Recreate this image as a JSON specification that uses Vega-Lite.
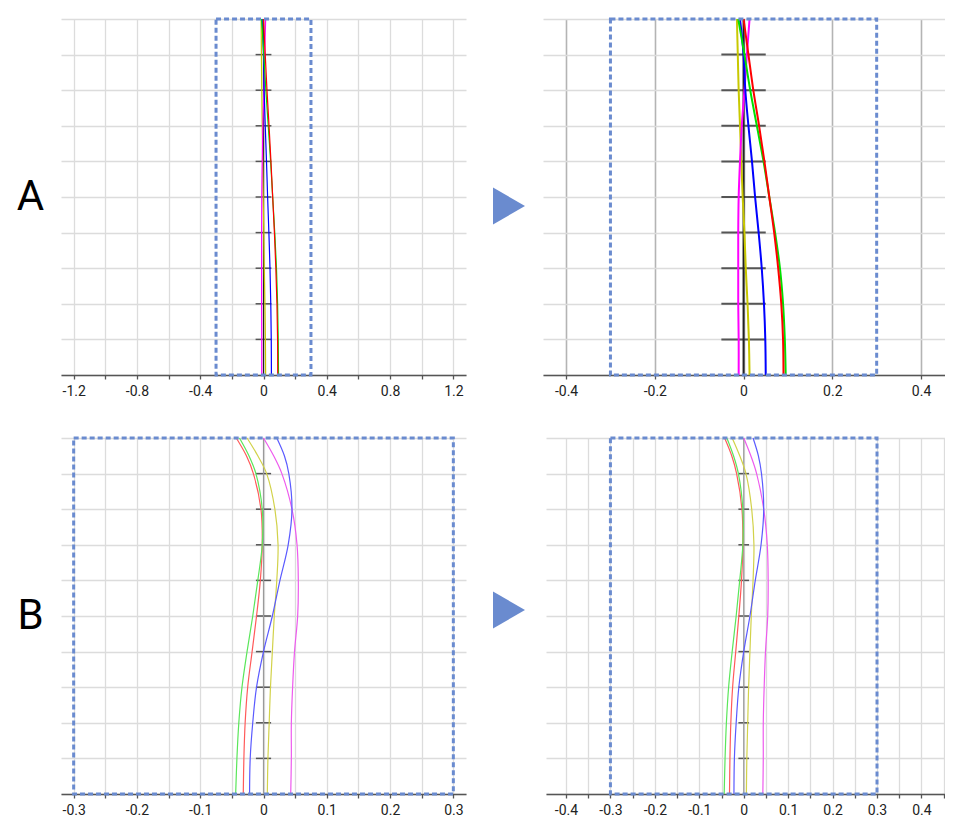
{
  "$schema": "https://vega.github.io/schema/vega-lite/v6.json",
  "background": "white",
  "padding": {"left": 0, "top": 15, "right": 0, "bottom": 0},
  "config": {
    "view": {"stroke": null},
    "axis": {
      "labelFont": "Roboto",
      "labelFontSize": 14,
      "labelColor": "#222222",
      "labelPadding": 5,
      "labelOverlap": false,
      "labelFlush": false,
      "domainColor": "#555555",
      "domainWidth": 1.5,
      "tickColor": "#555555",
      "tickSize": 4,
      "tickWidth": 1.3,
      "gridColor": "#dcdcdc",
      "gridWidth": 1.3
    }
  },
  "datasets": {
    "box": [{"x": -0.3, "x2": 0.3, "s": 0, "s2": 10}],
    "nodesA": [
      {"s": 1, "x": -0.05, "x2": 0.05}, {"s": 2, "x": -0.05, "x2": 0.05}, {"s": 3, "x": -0.05, "x2": 0.05},
      {"s": 4, "x": -0.05, "x2": 0.05}, {"s": 5, "x": -0.05, "x2": 0.05}, {"s": 6, "x": -0.05, "x2": 0.05},
      {"s": 7, "x": -0.05, "x2": 0.05}, {"s": 8, "x": -0.05, "x2": 0.05}, {"s": 9, "x": -0.05, "x2": 0.05}
    ],
    "nodesB": [
      {"s": 1, "x": -0.012, "x2": 0.012}, {"s": 2, "x": -0.012, "x2": 0.012}, {"s": 3, "x": -0.012, "x2": 0.012},
      {"s": 4, "x": -0.012, "x2": 0.012}, {"s": 5, "x": -0.012, "x2": 0.012}, {"s": 6, "x": -0.012, "x2": 0.012},
      {"s": 7, "x": -0.012, "x2": 0.012}, {"s": 8, "x": -0.012, "x2": 0.012}, {"s": 9, "x": -0.012, "x2": 0.012}
    ],
    "curvesA": [
      {"curve": "black", "s": 0, "x": 0}, {"curve": "black", "s": 10, "x": 0},
      {"curve": "yellow", "s": 0, "x": -0.015}, {"curve": "yellow", "s": 1, "x": -0.013}, {"curve": "yellow", "s": 2, "x": -0.011},
      {"curve": "yellow", "s": 3, "x": -0.008}, {"curve": "yellow", "s": 4, "x": -0.005}, {"curve": "yellow", "s": 5, "x": -0.002},
      {"curve": "yellow", "s": 6, "x": 0.002}, {"curve": "yellow", "s": 7, "x": 0.005}, {"curve": "yellow", "s": 8, "x": 0.009},
      {"curve": "yellow", "s": 9, "x": 0.012}, {"curve": "yellow", "s": 10, "x": 0.0135},
      {"curve": "magenta", "s": 0, "x": 0.0135}, {"curve": "magenta", "s": 1, "x": 0.0075}, {"curve": "magenta", "s": 2, "x": 0.002},
      {"curve": "magenta", "s": 3, "x": -0.004}, {"curve": "magenta", "s": 4, "x": -0.008}, {"curve": "magenta", "s": 5, "x": -0.011},
      {"curve": "magenta", "s": 6, "x": -0.012}, {"curve": "magenta", "s": 7, "x": -0.012}, {"curve": "magenta", "s": 8, "x": -0.012},
      {"curve": "magenta", "s": 9, "x": -0.011}, {"curve": "magenta", "s": 10, "x": -0.011},
      {"curve": "blue", "s": 0, "x": -0.008}, {"curve": "blue", "s": 1, "x": 0.0}, {"curve": "blue", "s": 2, "x": 0.004},
      {"curve": "blue", "s": 3, "x": 0.011}, {"curve": "blue", "s": 4, "x": 0.019}, {"curve": "blue", "s": 5, "x": 0.026},
      {"curve": "blue", "s": 6, "x": 0.034}, {"curve": "blue", "s": 7, "x": 0.041}, {"curve": "blue", "s": 8, "x": 0.046},
      {"curve": "blue", "s": 9, "x": 0.049}, {"curve": "blue", "s": 10, "x": 0.05},
      {"curve": "green", "s": 0, "x": -0.012}, {"curve": "green", "s": 1, "x": 0.002}, {"curve": "green", "s": 2, "x": 0.015},
      {"curve": "green", "s": 3, "x": 0.03}, {"curve": "green", "s": 4, "x": 0.045}, {"curve": "green", "s": 5, "x": 0.058},
      {"curve": "green", "s": 6, "x": 0.071}, {"curve": "green", "s": 7, "x": 0.082}, {"curve": "green", "s": 8, "x": 0.089},
      {"curve": "green", "s": 9, "x": 0.093}, {"curve": "green", "s": 10, "x": 0.095},
      {"curve": "red", "s": 0, "x": 0}, {"curve": "red", "s": 1, "x": 0.011}, {"curve": "red", "s": 2, "x": 0.022},
      {"curve": "red", "s": 3, "x": 0.035}, {"curve": "red", "s": 4, "x": 0.047}, {"curve": "red", "s": 5, "x": 0.058},
      {"curve": "red", "s": 6, "x": 0.069}, {"curve": "red", "s": 7, "x": 0.078}, {"curve": "red", "s": 8, "x": 0.085},
      {"curve": "red", "s": 9, "x": 0.089}, {"curve": "red", "s": 10, "x": 0.09}
    ],
    "curvesB": [
      {"curve": "gray", "s": 0, "x": 0}, {"curve": "gray", "s": 10, "x": 0},
      {"curve": "red", "s": 0, "x": -0.043}, {"curve": "red", "s": 0.5, "x": -0.027}, {"curve": "red", "s": 1, "x": -0.016},
      {"curve": "red", "s": 2, "x": -0.004}, {"curve": "red", "s": 3, "x": -0.002}, {"curve": "red", "s": 4, "x": -0.005},
      {"curve": "red", "s": 5, "x": -0.011}, {"curve": "red", "s": 6, "x": -0.018}, {"curve": "red", "s": 7, "x": -0.025},
      {"curve": "red", "s": 8, "x": -0.029}, {"curve": "red", "s": 9, "x": -0.031}, {"curve": "red", "s": 10, "x": -0.032},
      {"curve": "green", "s": 0, "x": -0.038}, {"curve": "green", "s": 0.5, "x": -0.023}, {"curve": "green", "s": 1, "x": -0.012},
      {"curve": "green", "s": 2, "x": -0.002}, {"curve": "green", "s": 3, "x": -0.002}, {"curve": "green", "s": 4, "x": -0.009},
      {"curve": "green", "s": 5, "x": -0.017}, {"curve": "green", "s": 6, "x": -0.026}, {"curve": "green", "s": 7, "x": -0.034},
      {"curve": "green", "s": 8, "x": -0.039}, {"curve": "green", "s": 9, "x": -0.042}, {"curve": "green", "s": 10, "x": -0.044},
      {"curve": "yellow", "s": 0, "x": -0.026}, {"curve": "yellow", "s": 0.5, "x": -0.009}, {"curve": "yellow", "s": 1, "x": 0.005},
      {"curve": "yellow", "s": 2, "x": 0.018}, {"curve": "yellow", "s": 3, "x": 0.023}, {"curve": "yellow", "s": 4, "x": 0.021},
      {"curve": "yellow", "s": 5, "x": 0.017}, {"curve": "yellow", "s": 6, "x": 0.014}, {"curve": "yellow", "s": 7, "x": 0.011},
      {"curve": "yellow", "s": 8, "x": 0.009}, {"curve": "yellow", "s": 9, "x": 0.007}, {"curve": "yellow", "s": 10, "x": 0.006},
      {"curve": "magenta", "s": 0, "x": 0}, {"curve": "magenta", "s": 0.5, "x": 0.016}, {"curve": "magenta", "s": 1, "x": 0.029},
      {"curve": "magenta", "s": 2, "x": 0.045}, {"curve": "magenta", "s": 3, "x": 0.053}, {"curve": "magenta", "s": 4, "x": 0.055},
      {"curve": "magenta", "s": 5, "x": 0.054}, {"curve": "magenta", "s": 6, "x": 0.049}, {"curve": "magenta", "s": 7, "x": 0.046},
      {"curve": "magenta", "s": 8, "x": 0.044}, {"curve": "magenta", "s": 9, "x": 0.044}, {"curve": "magenta", "s": 10, "x": 0.043},
      {"curve": "blue", "s": 0, "x": 0.021}, {"curve": "blue", "s": 0.5, "x": 0.033}, {"curve": "blue", "s": 1, "x": 0.04},
      {"curve": "blue", "s": 2, "x": 0.045}, {"curve": "blue", "s": 3, "x": 0.039}, {"curve": "blue", "s": 4, "x": 0.026},
      {"curve": "blue", "s": 5, "x": 0.014}, {"curve": "blue", "s": 6, "x": 0.0}, {"curve": "blue", "s": 7, "x": -0.011},
      {"curve": "blue", "s": 8, "x": -0.017}, {"curve": "blue", "s": 9, "x": -0.021}, {"curve": "blue", "s": 10, "x": -0.022}
    ]
  },
  "resolve": {"scale": {"color": "independent"}},
  "spacing": 37,
  "vconcat": [
    {
      "spacing": 0,
      "resolve": {"scale": {"color": "independent"}},
      "hconcat": [
        {
          "width": 61, "height": 356,
          "data": {"values": [{"panel": "A"}]},
          "mark": {"type": "text", "font": "Roboto", "fontSize": 42, "color": "black", "align": "center", "baseline": "middle"},
          "encoding": {"text": {"field": "panel"}}
        },
        {
          "width": 405, "height": 356,
          "encoding": {
            "x": {"field": "x", "type": "quantitative", "scale": {"domain": [-1.28, 1.28], "nice": false, "zero": false},
              "axis": {"title": null, "grid": true, "values": [-1.2, -1, -0.8, -0.6, -0.4, -0.2, 0, 0.2, 0.4, 0.6, 0.8, 1, 1.2],
                "labelExpr": "abs(datum.value / 0.4 - round(datum.value / 0.4)) < 0.01 ? (datum.value < 0 ? '-' + format(-datum.value, '.1~f') : format(datum.value, '.1~f')) : ''"}},
            "y": {"field": "s", "type": "quantitative", "scale": {"domain": [0, 10], "reverse": true, "nice": false, "zero": false},
              "axis": {"title": null, "grid": true, "values": [0, 1, 2, 3, 4, 5, 6, 7, 8, 9, 10], "labels": false, "ticks": false, "domain": false}}
          },
          "layer": [
            {
              "data": {"name": "nodesA"},
              "mark": {"type": "rule", "color": "#555555", "strokeWidth": 1.5},
              "encoding": {"x2": {"field": "x2"}}
            },
            {
              "data": {"name": "curvesA"},
              "mark": {"type": "line", "strokeWidth": 1.2, "interpolate": "catmull-rom"},
              "encoding": {
                "order": {"field": "s", "type": "quantitative"},
                "color": {"field": "curve", "type": "nominal", "legend": null,
                  "scale": {"domain": ["black", "yellow", "magenta", "blue", "green", "red"], "range": ["#222222", "#c8c800", "#ff00ff", "#0000ff", "#00e000", "#ff0000"]}}
              }
            },
            {
              "data": {"name": "box"},
              "mark": {"type": "rect", "filled": false, "stroke": "#6a8bcf", "strokeWidth": 3, "strokeDash": [5, 3]},
              "encoding": {"x2": {"field": "x2"}, "y2": {"field": "s2"}}
            }
          ]
        },
        {
          "width": 77, "height": 356,
          "data": {"values": [{"panel": "A"}]},
          "mark": {"type": "point", "shape": "M-1,-1.16L1,0L-1,1.16Z", "size": 1024, "filled": true, "color": "#6a8bcf", "opacity": 1, "xOffset": 4.5, "yOffset": 9},
          "encoding": {}
        },
        {
          "width": 402, "height": 356,
          "encoding": {
            "x": {"field": "x", "type": "quantitative", "scale": {"domain": [-0.452, 0.454], "nice": false, "zero": false},
              "axis": {"title": null, "grid": true, "gridColor": "#b4b4b4", "gridWidth": 1.6, "values": [-0.4, -0.2, 0, 0.2, 0.4],
                "labelExpr": "datum.value < 0 ? '-' + format(-datum.value, '.1~f') : format(datum.value, '.1~f')"}},
            "y": {"field": "s", "type": "quantitative", "scale": {"domain": [0, 10], "reverse": true, "nice": false, "zero": false},
              "axis": {"title": null, "grid": true, "values": [0, 1, 2, 3, 4, 5, 6, 7, 8, 9, 10], "labels": false, "ticks": false, "domain": false}}
          },
          "layer": [
            {
              "data": {"name": "nodesA"},
              "mark": {"type": "rule", "color": "#555555", "strokeWidth": 2},
              "encoding": {"x2": {"field": "x2"}}
            },
            {
              "data": {"name": "curvesA"},
              "mark": {"type": "line", "strokeWidth": 2, "interpolate": "catmull-rom"},
              "encoding": {
                "order": {"field": "s", "type": "quantitative"},
                "color": {"field": "curve", "type": "nominal", "legend": null,
                  "scale": {"domain": ["black", "yellow", "magenta", "blue", "green", "red"], "range": ["#222222", "#c8c800", "#ff00ff", "#0000ff", "#00e000", "#ff0000"]}}
              }
            },
            {
              "data": {"name": "box"},
              "mark": {"type": "rect", "filled": false, "stroke": "#6a8bcf", "strokeWidth": 3, "strokeDash": [5, 3]},
              "encoding": {"x2": {"field": "x2"}, "y2": {"field": "s2"}}
            }
          ]
        }
      ]
    },
    {
      "spacing": 0,
      "resolve": {"scale": {"color": "independent"}},
      "hconcat": [
        {
          "width": 61, "height": 356,
          "data": {"values": [{"panel": "B"}]},
          "mark": {"type": "text", "font": "Roboto", "fontSize": 42, "color": "black", "align": "center", "baseline": "middle"},
          "encoding": {"text": {"field": "panel"}}
        },
        {
          "width": 405, "height": 356,
          "encoding": {
            "x": {"field": "x", "type": "quantitative", "scale": {"domain": [-0.32, 0.32], "nice": false, "zero": false},
              "axis": {"title": null, "grid": true, "values": [-0.3, -0.25, -0.2, -0.15, -0.1, -0.05, 0, 0.05, 0.1, 0.15, 0.2, 0.25, 0.3],
                "labelExpr": "abs(datum.value / 0.1 - round(datum.value / 0.1)) < 0.01 ? (datum.value < 0 ? '-' + format(-datum.value, '.1~f') : format(datum.value, '.1~f')) : ''"}},
            "y": {"field": "s", "type": "quantitative", "scale": {"domain": [0, 10], "reverse": true, "nice": false, "zero": false},
              "axis": {"title": null, "grid": true, "values": [0, 1, 2, 3, 4, 5, 6, 7, 8, 9, 10], "labels": false, "ticks": false, "domain": false}}
          },
          "layer": [
            {
              "data": {"name": "nodesB"},
              "mark": {"type": "rule", "color": "#555555", "strokeWidth": 1.5},
              "encoding": {"x2": {"field": "x2"}}
            },
            {
              "data": {"name": "curvesB"},
              "mark": {"type": "line", "strokeWidth": 1.2, "interpolate": "catmull-rom"},
              "encoding": {
                "order": {"field": "s", "type": "quantitative"},
                "color": {"field": "curve", "type": "nominal", "legend": null,
                  "scale": {"domain": ["gray", "red", "green", "yellow", "magenta", "blue"], "range": ["#9a9a9a", "#ff5a5a", "#5ae65a", "#d2d24a", "#ee5aee", "#5a5aff"]}}
              }
            },
            {
              "data": {"name": "box"},
              "mark": {"type": "rect", "filled": false, "stroke": "#6a8bcf", "strokeWidth": 3, "strokeDash": [5, 3]},
              "encoding": {"x2": {"field": "x2"}, "y2": {"field": "s2"}}
            }
          ]
        },
        {
          "width": 80, "height": 356,
          "data": {"values": [{"panel": "B"}]},
          "mark": {"type": "point", "shape": "M-1,-1.16L1,0L-1,1.16Z", "size": 1024, "filled": true, "color": "#6a8bcf", "opacity": 1, "xOffset": 3, "yOffset": -6},
          "encoding": {}
        },
        {
          "width": 399, "height": 356,
          "encoding": {
            "x": {"field": "x", "type": "quantitative", "scale": {"domain": [-0.445, 0.453], "nice": false, "zero": false},
              "axis": {"title": null, "grid": true, "values": [-0.4, -0.35, -0.3, -0.25, -0.2, -0.15, -0.1, -0.05, 0, 0.05, 0.1, 0.15, 0.2, 0.25, 0.3, 0.35, 0.4, 0.45],
                "labelExpr": "abs(datum.value / 0.1 - round(datum.value / 0.1)) < 0.01 ? (datum.value < 0 ? '-' + format(-datum.value, '.1~f') : format(datum.value, '.1~f')) : ''"}},
            "y": {"field": "s", "type": "quantitative", "scale": {"domain": [0, 10], "reverse": true, "nice": false, "zero": false},
              "axis": {"title": null, "grid": true, "values": [0, 1, 2, 3, 4, 5, 6, 7, 8, 9, 10], "labels": false, "ticks": false, "domain": false}}
          },
          "layer": [
            {
              "data": {"name": "nodesB"},
              "mark": {"type": "rule", "color": "#555555", "strokeWidth": 1.5},
              "encoding": {"x2": {"field": "x2"}}
            },
            {
              "data": {"name": "curvesB"},
              "mark": {"type": "line", "strokeWidth": 1.2, "interpolate": "catmull-rom"},
              "encoding": {
                "order": {"field": "s", "type": "quantitative"},
                "color": {"field": "curve", "type": "nominal", "legend": null,
                  "scale": {"domain": ["gray", "red", "green", "yellow", "magenta", "blue"], "range": ["#9a9a9a", "#ff5a5a", "#5ae65a", "#d2d24a", "#ee5aee", "#5a5aff"]}}
              }
            },
            {
              "data": {"name": "box"},
              "mark": {"type": "rect", "filled": false, "stroke": "#6a8bcf", "strokeWidth": 3, "strokeDash": [5, 3]},
              "encoding": {"x2": {"field": "x2"}, "y2": {"field": "s2"}}
            }
          ]
        }
      ]
    }
  ]
}
